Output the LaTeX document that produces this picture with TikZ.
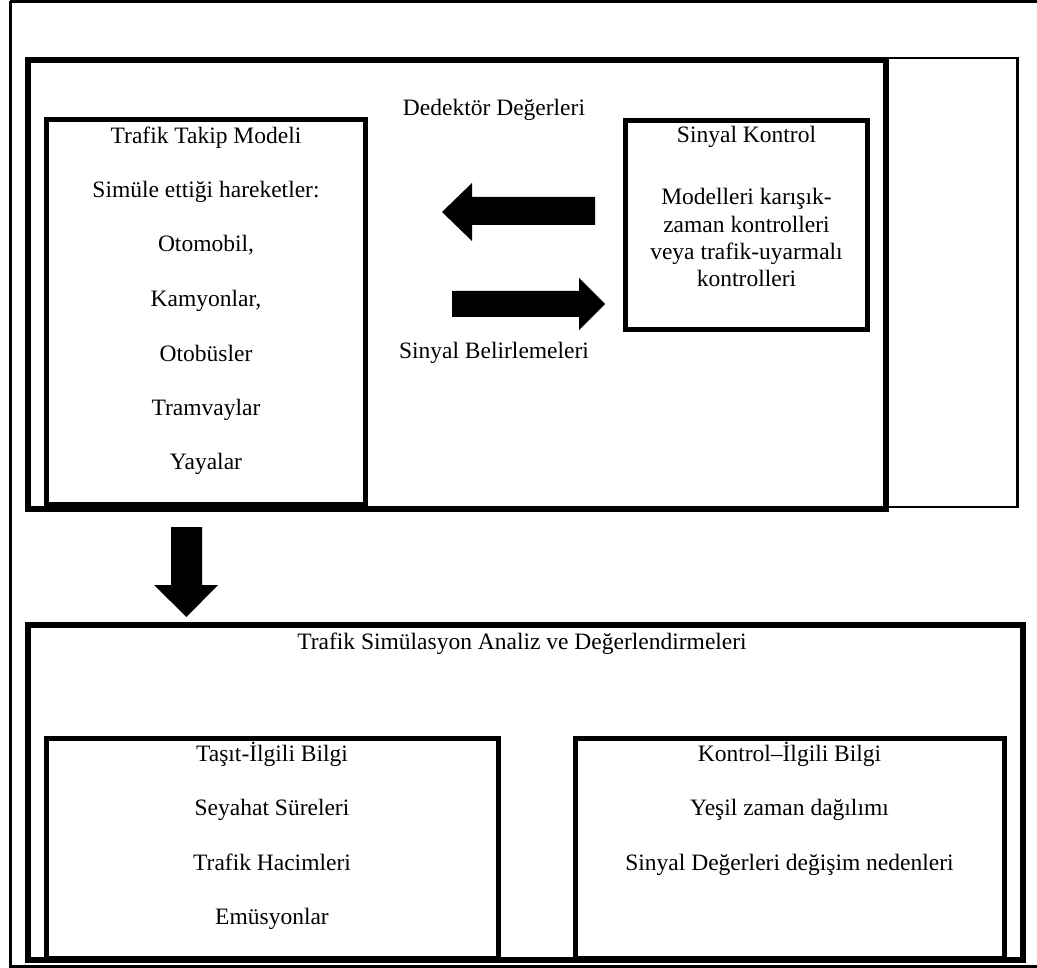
\documentclass[tikz,border=0pt]{standalone}
\usepackage{fontspec}
\setmainfont{Liberation Serif}
\begin{document}
\begin{tikzpicture}[x=1pt,y=-1pt,
  txt/.style={inner sep=0pt,anchor=base,font=\fontsize{23.5}{27.3}\selectfont},
  thin/.style={line width=3pt},
  thick/.style={line width=6pt},
  mid/.style={line width=5pt},
  hair/.style={line width=2.4pt},
  blk/.style={fill=black,draw=none}]
\useasboundingbox (0,0) rectangle (1037,968);
% outer frame
\draw[thin] (10,1.5) -- (1045,1.5);
\draw[thin] (10,1.5) -- (10,966.5) -- (1045,966.5);
% right thin box
\draw[hair] (886,58.3) rectangle (1017.5,507);
% top group box
\draw[thick] (28,60) rectangle (886,509);
% model box
\draw[mid] (46,120) rectangle (365.5,504);
% signal control box
\draw[mid] (625.5,120.5) rectangle (867.5,329.5);
% bottom group box
\draw[thick] (28,624.5) rectangle (1022.5,960);
% inner bottom boxes
\draw[mid] (46,738) rectangle (498,958);
\draw[mid] (575,738) rectangle (1004,958);

% arrows
\fill[blk] (595,197) -- (472,197) -- (472,183) -- (442,212) -- (472,241) -- (472,225) -- (595,225) -- cycle;
\fill[blk] (452,291) -- (579,291) -- (579,278) -- (605,304) -- (579,330) -- (579,317) -- (452,317) -- cycle;
\fill[blk] (171,527) -- (202,527) -- (202,585) -- (218,585) -- (186.5,617) -- (154,585) -- (171,585) -- cycle;

% texts top
\node[txt] (ded) at (494,116) {Dedektör Değerleri};
\node[txt] (sb) at (494,359) {Sinyal Belirlemeleri};
\node[txt] (m1) at (206,143.5) {Trafik Takip Modeli};
\node[txt] (m2) at (206,198) {Simüle ettiği hareketler:};
\node[txt] (m3) at (206,252) {Otomobil,};
\node[txt] (m4) at (206,306.7) {Kamyonlar,};
\node[txt] (m5) at (206,361.5) {Otobüsler};
\node[txt] (m6) at (206,415.5) {Tramvaylar};
\node[txt] (m7) at (206,469.5) {Yayalar};
\node[txt] (s1) at (746.5,143) {Sinyal Kontrol};
\node[txt] (s2) at (746.5,205) {Modelleri karışık-};
\node[txt] (s3) at (746.5,232.3) {zaman kontrolleri};
\node[txt] (s4) at (746.5,259.6) {veya trafik-uyarmalı};
\node[txt] (s5) at (746.5,286.9) {kontrolleri};
% bottom texts
\node[txt] (ttl) at (522,649) {Trafik Simülasyon Analiz ve Değerlendirmeleri};
\node[txt] (t1) at (272,761) {Taşıt-İlgili Bilgi};
\node[txt] (t2) at (272,815.5) {Seyahat Süreleri};
\node[txt] (t3) at (272,870) {Trafik Hacimleri};
\node[txt] (t4) at (272,924.5) {Emüsyonlar};
\node[txt] (k1) at (789.5,761) {Kontrol–İlgili Bilgi};
\node[txt] (k2) at (789.5,815.5) {Yeşil zaman dağılımı};
\node[txt] (k3) at (789.5,870) {Sinyal Değerleri değişim nedenleri};
\end{tikzpicture}
\end{document}
